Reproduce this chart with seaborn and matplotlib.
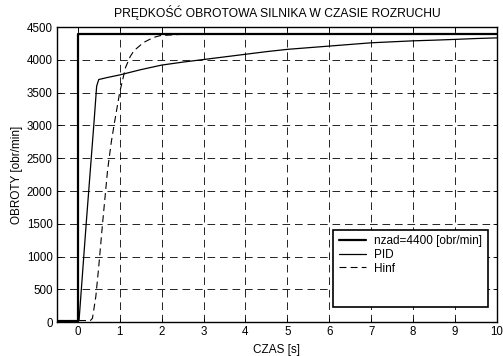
import matplotlib
matplotlib.use("Agg")
import matplotlib.pyplot as plt
import seaborn as sns
import pandas as pd
from matplotlib.lines import Line2D

sns.set_style("white")
plt.rcParams['font.family'] = ['Liberation Sans', 'DejaVu Sans']
plt.rcParams['lines.scale_dashes'] = False
plt.rcParams['text.color'] = 'black'
plt.rcParams['axes.labelcolor'] = 'black'

# Data
t_set = [-0.5, 0.0, 0.0, 10.0]
n_set = [0, 0, 4400, 4400]

t_pid = [-0.5, 0.0, 0.03, 0.2, 0.39, 0.45, 0.5, 0.7, 1.0, 1.5, 2.0, 2.5, 3.0, 3.5, 4.0,
         4.5, 5.0, 5.5, 6.0, 6.5, 7.0, 7.5, 8.0, 8.5, 9.0, 9.5, 10.0]
n_pid = [25, 25, 30, 1500, 3075, 3600, 3700, 3730, 3770, 3850, 3920, 3965, 4005, 4045, 4085,
         4125, 4160, 4185, 4210, 4235, 4260, 4275, 4290, 4300, 4312, 4325, 4335]

t_hinf = [-0.5, 0.3, 0.35, 0.43, 0.5, 0.59, 0.71, 0.8, 0.87, 1.0, 1.14, 1.25, 1.34, 1.57,
          1.8, 1.97, 2.5, 3.0, 10.0]
n_hinf = [25, 25, 60, 390, 850, 1500, 2315, 2750, 3024, 3505, 3885, 4050, 4140, 4265,
          4340, 4370, 4390, 4395, 4400]

x_ticks = list(range(0, 11))
y_ticks = list(range(0, 4501, 500))

title = "PRĘDKOŚĆ OBROTOWA SILNIKA W CZASIE ROZRUCHU"
xlabel = "CZAS [s]"
ylabel = "OBROTY [obr/min]"
labels = ["nzad=4400 [obr/min]", "PID", "Hinf"]

df_set = pd.DataFrame({"t": t_set, "n": n_set})
df_pid = pd.DataFrame({"t": t_pid, "n": n_pid})
df_hinf = pd.DataFrame({"t": t_hinf, "n": n_hinf})

fig = plt.figure(figsize=(5.03, 3.56), dpi=100)
ax = fig.add_axes([0.113, 0.095, 0.875, 0.829])

sns.lineplot(data=df_set, x="t", y="n", ax=ax, color="black", linewidth=1.6,
             sort=False, estimator=None)
sns.lineplot(data=df_pid, x="t", y="n", ax=ax, color="black", linewidth=0.9,
             sort=False, estimator=None)
sns.lineplot(data=df_hinf, x="t", y="n", ax=ax, color="black", linewidth=0.8,
             sort=False, estimator=None, linestyle=(0, (5, 3)))

ax.set_xlim(-0.5, 10)
ax.set_ylim(0, 4500)
ax.set_xticks(x_ticks)
ax.set_yticks(y_ticks)
ax.grid(True, color="black", linestyle=(0, (5.5, 3.5)), linewidth=0.6)
ax.tick_params(direction="in", length=3, width=0.6, labelsize=8.3, colors="black",
               top=True, right=True, bottom=True, left=True, pad=3)
for s in ax.spines.values():
    s.set_color("black")
    s.set_linewidth(1.0)

ax.set_title(title, fontsize=8.7, pad=7, color="black")
ax.set_xlabel(xlabel, fontsize=8.5, labelpad=4, color="black")
ax.set_ylabel(ylabel, fontsize=8.5, labelpad=3, color="black")

handles = [Line2D([], [], color="black", lw=1.6),
           Line2D([], [], color="black", lw=0.9),
           Line2D([], [], color="black", lw=0.8, linestyle=(0, (5, 3))),
           Line2D([], [], color="none"),
           Line2D([], [], color="none")]
leg = ax.legend(handles, labels + [" ", " "], loc="lower right",
                bbox_to_anchor=(0.992, 0.03), fontsize=8.5, frameon=True,
                fancybox=False, framealpha=1, edgecolor="black",
                handlelength=2.3, labelspacing=0.15, borderpad=0.45,
                handletextpad=0.7)
leg.get_frame().set_linewidth(1.2)
for txt in leg.get_texts():
    txt.set_color("black")

fig.savefig("out.png", dpi=100, facecolor="white")
